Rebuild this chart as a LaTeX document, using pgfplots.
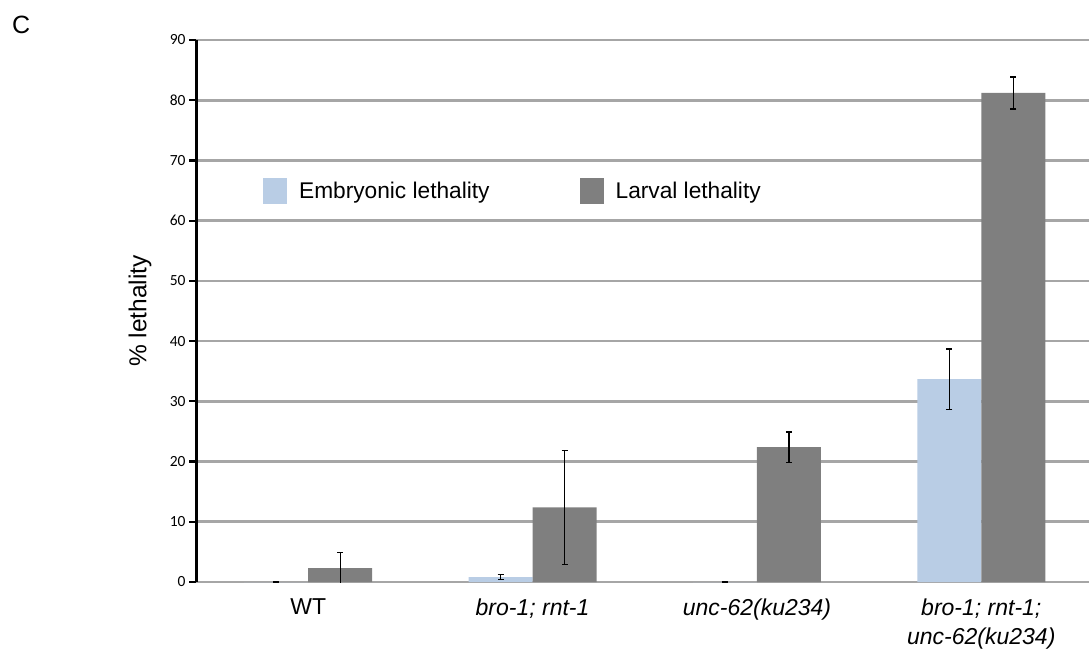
\documentclass[border=0pt]{standalone}
\usepackage{fontspec}
\setmainfont{Liberation Sans}
\newfontfamily\carlito{Carlito}
\usepackage{pgfplots}
\pgfplotsset{compat=1.18}
\definecolor{embcol}{HTML}{B9CDE5}
\definecolor{larcol}{HTML}{7F7F7F}
\definecolor{gridcol}{HTML}{A6A6A6}
\begin{document}
\begin{tikzpicture}
\useasboundingbox (0,0) rectangle (1089pt,648pt);
\node[anchor=base west, inner sep=0pt, font=\fontsize{25}{28}\selectfont] at (12pt,614pt) {C};
\begin{axis}[
  at={(196pt,66pt)}, anchor=south west,
  scale only axis, width=893pt, height=542pt,
  xmin=-0.5, xmax=3.48, ymin=0, ymax=90,
  ybar=0pt, bar width=64pt,
  axis x line*=bottom, axis y line*=left,
  axis line style={black, line width=3pt, -},
  x axis line style={draw=none},
  every outer y axis line/.append style={black, line width=3pt, -},
  xtick={0,1,2,3},
  xticklabels={WT, \textit{bro-1; rnt-1}, \textit{unc-62(ku234)}, {\textit{bro-1; rnt-1;}\\\textit{unc-62(ku234)}}},
  xtick style={draw=none},
  xticklabel style={align=center, font=\fontsize{23}{29}\selectfont, yshift=-6pt},
  ytick={0,10,...,90},
  ytick style={black, line width=2.2pt},
  tick align=outside, major tick length=7pt,
  yticklabel style={font=\carlito\fontsize{15.5}{18}\selectfont},
  /pgf/number format/assume math mode=true,
  ymajorgrids, grid style={gridcol, line width=2.6pt},
  ylabel={\% lethality},
  ylabel style={at={(axis description cs:-0.0627,0.5)}, anchor=center, font=\fontsize{24.5}{28}\selectfont},
  legend columns=2,
  legend style={draw=none, fill=none, at={(axis description cs:0.0716,0.7214)}, anchor=west,
    font=\fontsize{22.7}{27}\selectfont,
    /tikz/every odd column/.append style={column sep=10pt},
    /tikz/every even column/.append style={column sep=88pt},
    /tikz/column 3/.append style={column sep=15pt}},
  error bars/error bar style={black, line width=1.2pt},
  error bars/error mark options={black, line width=1.2pt, mark size=3pt, rotate=90},
]
\addplot[fill=embcol, draw=none,
  legend image code/.code={\fill[embcol] (0pt,-13pt) rectangle (24pt,13pt);},
  error bars/.cd, y dir=both, y explicit]
  coordinates {(0,0) +- (0,0) (1,0.8) +- (0,0.4) (2,0) +- (0,0) (3,33.7) +- (0,5.0)};
\addlegendentry{Embryonic lethality}
\addplot[fill=larcol, draw=none,
  legend image code/.code={\fill[larcol] (0pt,-13pt) rectangle (24pt,13pt);},
  error bars/.cd, y dir=both, y explicit]
  coordinates {(0,2.3) +- (0,2.6) (1,12.4) +- (0,9.5) (2,22.4) +- (0,2.5) (3,81.2) +- (0,2.65)};
\addlegendentry{Larval lethality}
\end{axis}
\end{tikzpicture}
\end{document}
